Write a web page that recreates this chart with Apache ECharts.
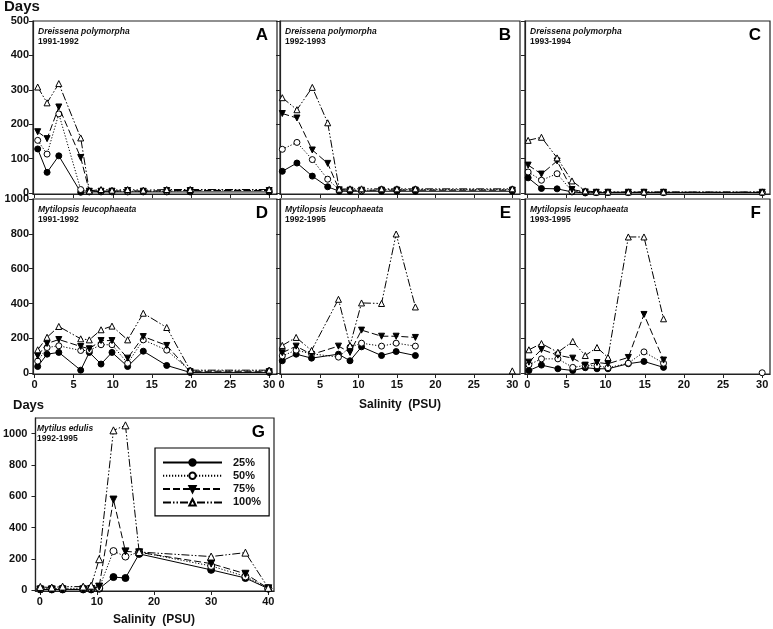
<!DOCTYPE html>
<html><head><meta charset="utf-8">
<script src="https://cdn.jsdelivr.net/npm/echarts@6/dist/echarts.min.js"></script>
<style>html,body{margin:0;padding:0;background:#fff}#c{width:773px;height:629px}</style>
</head><body><div id="c"></div>
<script>
// ---- Data (salinity in PSU, days) ----
const seriesNames = ['25%', '50%', '75%', '100%'];

const salA = [0.4, 1.6, 3.1, 5.9, 7.0, 8.5, 9.9, 11.9, 13.9, 16.9, 19.9, 30];
const A25  = [128, 60, 108, 2, 3, 3, 3, 3, 3, 3, 3, 3];
const A50  = [153, 113, 230, 10, 5, 5, 5, 5, 5, 5, 8, 8];
const A75  = [178, 158, 250, 103, 5, 5, 5, 7, 5, 7, 7, 7];
const A100 = [308, 262, 318, 160, 6, 10, 8, 10, 8, 10, 10, 10];

const salB = [0.1, 2.0, 4.0, 6.0, 7.5, 8.9, 10.4, 13.0, 15.0, 17.4, 30];
const B25  = [63, 87, 49, 18, 5, 5, 5, 5, 5, 5, 5];
const B50  = [127, 147, 97, 40, 9, 9, 6, 10, 10, 10, 10];
const B75  = [231, 218, 125, 86, 9, 8, 8, 8, 8, 8, 8];
const B100 = [277, 242, 307, 204, 11, 12, 12, 12, 12, 12, 12];

const salC = [0.1, 1.8, 3.8, 5.7, 7.4, 8.8, 10.3, 12.9, 14.9, 17.4, 30];
const C25  = [44, 13, 12, 3, 0, 1, 1, 1, 1, 1, 1];
const C50  = [61, 37, 56, 5, 3, 2, 2, 2, 2, 2, 2];
const C75  = [81, 55, 93, 10, 3, 2, 2, 2, 2, 2, 2];
const C100 = [153, 162, 102, 35, 6, 3, 3, 3, 3, 3, 3];

const salD = [0.4, 1.6, 3.1, 5.9, 7.0, 8.5, 9.9, 11.9, 13.9, 16.9, 19.9, 30];
const D25  = [38, 109, 119, 17, 119, 52, 119, 38, 126, 44, 4, 4];
const D50  = [69, 147, 157, 130, 130, 163, 163, 57, 191, 132, 13, 13];
const D75  = [99, 170, 193, 153, 140, 187, 187, 86, 210, 159, 8, 8];
const D100 = [134, 206, 268, 197, 191, 249, 270, 191, 344, 262, 17, 17];

const salE = [0.1, 1.9, 3.9, 7.4, 8.9, 10.4, 13.0, 14.9, 17.4];
const E25  = [71, 109, 86, 109, 71, 151, 101, 124, 101];
const E50  = [99, 132, 111, 92, 149, 172, 155, 172, 155];
const E75  = [117, 155, 107, 155, 119, 247, 212, 212, 205];
const E100 = [159, 205, 130, 424, 159, 403, 400, 799, 380];
const salE100extra = [30];
const E100extra = [13];

const salF = [0.2, 1.8, 3.9, 5.8, 7.4, 8.9, 10.3, 12.9, 14.9, 17.4];
const F25  = [15, 46, 25, 15, 31, 25, 25, 54, 67, 33];
const F50  = [48, 82, 82, 33, 44, 42, 31, 57, 122, 57];
const F75  = [63, 136, 103, 86, 46, 61, 54, 90, 337, 75];
const F100 = [134, 170, 120, 182, 101, 147, 90, 782, 782, 312];
const salF50extra = [30];
const F50extra = [2];

const salG = [0.1, 2.1, 4.0, 7.6, 9.0, 10.4, 12.9, 15.0, 17.4, 30, 36, 40];
const G25  = [5, 5, 5, 5, 5, 10, 84, 78, 232, 130, 78, 10];
const G50  = [10, 10, 12, 12, 12, 15, 250, 215, 244, 155, 88, 12];
const G75  = [5, 5, 5, 5, 8, 23, 579, 248, 242, 170, 105, 12];
const G100 = [21, 17, 23, 23, 29, 198, 1021, 1053, 244, 215, 240, 15];

const xTicks30 = [0, 5, 10, 15, 20, 25, 30];
const xTicks40 = [0, 10, 20, 30, 40];
const yTicks500 = [0, 100, 200, 300, 400, 500];
const yTicks1000 = [0, 200, 400, 600, 800, 1000];

// ---- Layout / styling ----
const FF = '"Liberation Sans", Arial, sans-serif';
const panels = [
  {letter:'A', species:'Dreissena polymorpha', years:'1991-1992', sal:salA, vals:[A25,A50,A75,A100], box:[33,21,244,173], x:[-0.2,31], y:[-3,500], xt:xTicks30, yt:yTicks500, showX:false, showY:true},
  {letter:'B', species:'Dreissena polymorpha', years:'1992-1993', sal:salB, vals:[B25,B50,B75,B100], box:[280,21,240,173], x:[-0.2,31], y:[-3,500], xt:xTicks30, yt:yTicks500, showX:false, showY:false},
  {letter:'C', species:'Dreissena polymorpha', years:'1993-1994', sal:salC, vals:[C25,C50,C75,C100], box:[525,21,245,173], x:[-0.3,31], y:[-3,500], xt:xTicks30, yt:yTicks500, showX:false, showY:false},
  {letter:'D', species:'Mytilopsis leucophaeata', years:'1991-1992', sal:salD, vals:[D25,D50,D75,D100], box:[33,199,244,175], x:[-0.2,31], y:[-5,1000], xt:xTicks30, yt:yTicks1000, showX:true, showY:true},
  {letter:'E', species:'Mytilopsis leucophaeata', years:'1992-1995', sal:salE, vals:[E25,E50,E75,E100], box:[280,199,240,175], x:[-0.2,31], y:[-5,1000], xt:xTicks30, yt:yTicks1000, showX:true, showY:false,
    extra:{idx:3, sal:salE100extra, vals:E100extra}},
  {letter:'F', species:'Mytilopsis leucophaeata', years:'1993-1995', sal:salF, vals:[F25,F50,F75,F100], box:[525,199,245,175], x:[-0.3,31], y:[-5,1000], xt:xTicks30, yt:yTicks1000, showX:true, showY:false,
    extra:{idx:1, sal:salF50extra, vals:F50extra}},
  {letter:'G', species:'Mytilus edulis', years:'1992-1995', sal:salG, vals:[G25,G50,G75,G100], box:[32,418,242,173], x:[-0.75,41], y:[-5,1100], xt:xTicks40, yt:yTicks1000, showX:true, showY:true, big:true},
];

const styles = [
  {symbol:'circle', fill:'#000', dash:'solid'},
  {symbol:'circle', fill:'#fff', dash:[1.2,1.8]},
  {symbol:'path://M0,0L10,0L5,9Z', fill:'#000', dash:[7,3]},
  {symbol:'triangle', fill:'#fff', dash:[8,2,1.5,2,1.5,2]},
];

const grid = [], xAxis = [], yAxis = [], series = [], graphic = [];
const labelStyle = {fontFamily:FF, fontWeight:'bold', fontSize:11, color:'#111', formatter: v => String(v)};

function mkSeries(i, k, sal, vals, size) {
  const st = styles[k];
  return {
    type:'line', name:seriesNames[k], xAxisIndex:i, yAxisIndex:i,
    data: sal.map((s, j) => [s, vals[j]]),
    symbol: st.symbol, symbolSize: size, showSymbol:true,
    lineStyle:{color:'#000', width:1, type:st.dash},
    itemStyle:{color:st.fill, borderColor:'#000', borderWidth:1},
    emphasis:{disabled:true}, animation:false, z: 2 + k
  };
}

panels.forEach((p, i) => {
  const [l, t, w, h] = p.box;
  grid.push({left:l, top:t, width:w, height:h, show:true, borderColor:'#222', borderWidth:1.2, backgroundColor:'transparent'});
  xAxis.push({
    type:'value', gridIndex:i, min:p.x[0], max:p.x[1],
    axisLine:{show:true, onZero:false, lineStyle:{color:'#222', width:1.2}},
    axisTick:{show:true, customValues:p.xt, length:4, lineStyle:{color:'#222'}},
    axisLabel:{show:p.showX, customValues:p.xt, margin:5, ...labelStyle},
    splitLine:{show:false}
  });
  yAxis.push({
    type:'value', gridIndex:i, min:p.y[0], max:p.y[1],
    axisLine:{show:true, onZero:false, lineStyle:{color:'#222', width:1.2}},
    axisTick:{show:true, customValues:p.yt, length:4, lineStyle:{color:'#222'}},
    axisLabel:{show:p.showY, customValues:p.yt, margin:p.big ? 8 : 4, ...labelStyle},
    splitLine:{show:false}
  });
  const size = p.big ? 7 : 6;
  p.vals.forEach((v, k) => series.push(mkSeries(i, k, p.sal, v, size)));
  if (p.extra) series.push(mkSeries(i, p.extra.idx, p.extra.sal, p.extra.vals, size));

  graphic.push({type:'text', left:l + 5, top:t + 6, silent:true,
    style:{text:p.species, font:'italic bold 8.5px ' + FF, fill:'#111'}});
  graphic.push({type:'text', left:l + 5, top:t + 16, silent:true,
    style:{text:p.years, font:'bold 8.5px ' + FF, fill:'#111'}});
  graphic.push({type:'text', right: 773 - (l + w) + 9, top:t + 6, silent:true,
    style:{text:p.letter, font:'bold 17px ' + FF, fill:'#000'}});
});

graphic.push({type:'text', left:4, top:-1, silent:true, style:{text:'Days', font:'bold 15px ' + FF, fill:'#111'}});
graphic.push({type:'text', left:13, top:399, silent:true, style:{text:'Days', font:'bold 13px ' + FF, fill:'#111'}});
graphic.push({type:'text', left:359, top:399, silent:true, style:{text:'Salinity  (PSU)', font:'bold 12px ' + FF, fill:'#111'}});
graphic.push({type:'text', left:113, top:614, silent:true, style:{text:'Salinity  (PSU)', font:'bold 12px ' + FF, fill:'#111'}});

const chart = echarts.init(document.getElementById('c'), null, {renderer:'canvas'});
chart.setOption({
  animation:false,
  backgroundColor:'#fff',
  grid, xAxis, yAxis, series, graphic,
  legend:{
    data:seriesNames, orient:'vertical', left:155, top:448,
    padding:[9,8,8,7], itemWidth:59, itemHeight:8, itemGap:2.3,
    borderColor:'#000', borderWidth:1.2, backgroundColor:'#fff',
    selectedMode:false, z:20,
    textStyle:{fontFamily:FF, fontWeight:'bold', fontSize:11, color:'#111', padding:[0,0,0,6]}
  }
});
</script></body></html>
